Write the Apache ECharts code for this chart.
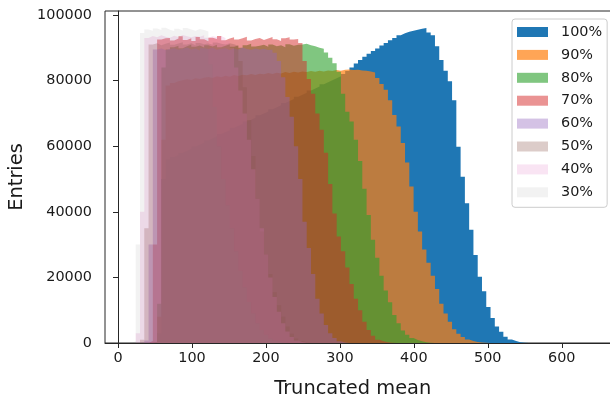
<!DOCTYPE html>
<html>
<head>
<meta charset="utf-8">
<script src="https://cdn.jsdelivr.net/npm/echarts@6/dist/echarts.min.js"></script>
<style>
  html, body { margin: 0; padding: 0; background: #ffffff; }
  #chart { width: 610px; height: 398px; }
</style>
</head>
<body>
<div id="chart"></div>
<script>
// Histogram binning (truncated-mean units)
const binStart = 12.4;
const binWidth = 5.78;

// Series labels (truncation fraction) and matching fill colours
const labels = ['100%', '90%', '80%', '70%', '60%', '50%', '40%', '30%'];
const fills = [
  'rgba(31,119,180,1.0)',
  'rgba(255,127,14,0.7)',
  'rgba(44,160,44,0.6)',
  'rgba(214,39,40,0.5)',
  'rgba(148,103,189,0.4)',
  'rgba(140,86,75,0.3)',
  'rgba(227,119,194,0.2)',
  'rgba(127,127,127,0.1)'
];

// Entries per bin, one array per truncation fraction
const counts100 = [
  0, 0, 0, 0, 0, 0, 200, 3000, 50000, 56000,
  56700, 57300, 58000, 58600, 59200, 59900, 60500, 61100, 61800, 62400,
  63000, 63700, 64300, 64900, 65600, 66200, 66800, 67500, 68100, 68700,
  69400, 70000, 70600, 71300, 71900, 72500, 73200, 73800, 74400, 75100,
  75700, 76300, 77000, 77600, 78200, 78900, 79500, 80100, 80700, 81300,
  82000, 82900, 84000, 85200, 86300, 87300, 88200, 89000, 89800, 90700,
  91500, 92300, 93000, 93800, 94400, 94900, 95200, 95500, 95800, 96000,
  94700, 93800, 90500, 86300, 83000, 79800, 74000, 59800, 50700, 42600,
  34500, 26800, 20200, 15800, 11000, 7600, 5000, 3400, 1900, 1100,
  600, 250, 100, 30, 0, 0
];
const counts90 = [
  0, 0, 0, 0, 0, 0, 200, 8000, 62000, 78500,
  79300, 79800, 80100, 80400, 80200, 80700, 80500, 80900, 81100, 80800,
  81300, 81000, 81500, 81200, 81700, 81400, 81800, 81600, 82000, 81700,
  82100, 81900, 82300, 82000, 82400, 82200, 82600, 82300, 82700, 82500,
  82800, 82600, 82900, 82700, 83000, 82800, 83100, 82900, 83200, 83000,
  83300, 83400, 83200, 83300, 83100, 83000, 82800, 82500, 80800, 79000,
  77200, 74000, 69500, 66000, 61000, 55000, 47700, 40000, 34000, 28500,
  24500, 20500, 16500, 12000, 9000, 6500, 4200, 2800, 1800, 1100,
  600, 300, 150, 50, 0, 0
];
const counts80 = [
  0, 0, 0, 0, 0, 0, 300, 12000, 84000, 89500,
  90200, 90600, 89900, 90500, 91000, 90300, 90700, 90100, 90800, 90400,
  90900, 90200, 90600, 91100, 90300, 90700, 90000, 90800, 91200, 90400,
  90600, 90900, 90300, 91000, 90500, 90800, 90200, 91100, 90600, 90900,
  91000, 91200, 90800, 90500, 90000, 89700, 88600, 87000, 85300, 82700,
  76000, 70500, 67500, 62000, 55500, 47000, 39000, 31500, 26000, 20500,
  16000, 12400, 8500, 6000, 3800, 2500, 1500, 900, 500, 250,
  100, 0
];
const counts70 = [
  0, 0, 0, 0, 0, 600, 30000, 92500, 92900, 93000,
  92200, 92800, 93500, 92400, 92900, 92100, 93300, 92600, 92000, 93100,
  92700, 93600, 92300, 92800, 93200, 92500, 92900, 93400, 92200, 92700,
  93000, 92400, 92800, 93300, 92600, 92100, 92900, 93200, 92500, 92700,
  91500, 86000, 80500, 76000, 70000, 65000, 58000, 48500, 39500, 32500,
  28000, 23000, 18000, 13500, 10000, 6500, 4000, 2200, 1000, 500,
  200, 80, 0
];
const counts60 = [
  0, 0, 0, 0, 800, 30000, 89500, 89800, 89300, 89600,
  89900, 89400, 89700, 90100, 89500, 89800, 89200, 89900, 89600, 90000,
  89400, 89700, 89900, 89300, 89800, 89500, 90100, 89600, 89400, 89800,
  89500, 89700, 89300, 89500, 88500, 86000, 81000, 75000, 69000, 60000,
  50000, 37000, 29000, 21000, 13500, 9000, 5500, 3000, 1500, 500,
  150, 0
];
const counts50 = [
  0, 0, 0, 1000, 35000, 91000, 91400, 90800, 91200, 91600,
  90900, 91300, 91700, 91000, 91400, 90800, 91500, 91100, 91300, 90900,
  91600, 91200, 91000, 91400, 91100, 90600, 86000, 78000, 68000, 57000,
  44000, 34000, 27000, 21000, 15500, 11500, 8000, 5000, 2800, 1400,
  600, 200, 0
];
const counts40 = [
  0, 0, 3000, 40000, 93000, 93600, 93200, 93800, 93400, 93100,
  93700, 93300, 93900, 93500, 93200, 93600, 93400, 93800, 93100, 93500,
  93300, 93600, 93000, 92200, 90000, 84000, 77000, 70000, 62000, 53000,
  44000, 35000, 27000, 20000, 14000, 9500, 6000, 3500, 1800, 800,
  300, 100, 0
];
const counts30 = [
  0, 500, 30000, 94500, 95600, 95200, 95900, 95400, 96100, 95500,
  95100, 95800, 95300, 96000, 95600, 95200, 95700, 95400, 95000, 85000,
  72000, 60000, 50000, 42000, 35000, 28000, 22000, 17000, 12500, 9000,
  6000, 4000, 2500, 1400, 700, 300, 100, 0
];

const allCounts = [counts100, counts90, counts80, counts70, counts60, counts50, counts40, counts30];

// Axis ticks
const xTicks = [0, 100, 200, 300, 400, 500, 600];
const yTicks = [0, 20000, 40000, 60000, 80000, 100000];

// Turn per-bin counts into step-line points at bin edges
function toSteps(counts) {
  const pts = counts.map((c, i) => [binStart + i * binWidth, c]);
  pts.push([binStart + counts.length * binWidth, 0]);
  return pts;
}

const axisColor = '#262626';
const textColor = '#1a1a1a';
const font = 'DejaVu Sans';

const series = labels.map((name, k) => ({
  name: name,
  type: 'line',
  step: 'end',
  data: toSteps(allCounts[k]),
  symbol: 'none',
  showSymbol: false,
  silent: true,
  lineStyle: { width: 0, color: fills[k] },
  itemStyle: { color: fills[k] },
  areaStyle: { color: fills[k], opacity: 1 }
}));

const chart = echarts.init(document.getElementById('chart'), null, { renderer: 'canvas' });
chart.setOption({
  animation: false,
  backgroundColor: '#ffffff',
  grid: {
    left: 105, top: 11, width: 510, height: 332,
    containLabel: false,
    outerBoundsMode: 'none',
    show: true, borderColor: axisColor, borderWidth: 1, backgroundColor: 'transparent'
  },
  legend: {
    orient: 'vertical',
    left: 512, top: 19,
    data: labels,
    icon: 'rect',
    itemWidth: 31, itemHeight: 10,
    itemGap: 6.9,
    padding: [5, 5, 7, 5],
    backgroundColor: 'rgba(255,255,255,0.8)',
    borderColor: '#cccccc', borderWidth: 1, borderRadius: 3,
    textStyle: { fontFamily: font, fontSize: 14.4, color: textColor, lineHeight: 16, padding: [0, 0, 0, 8] }
  },
  xAxis: {
    type: 'value',
    min: -17.6, max: 672,
    name: 'Truncated mean',
    nameLocation: 'middle',
    nameGap: 36,
    nameTextStyle: { fontFamily: font, fontSize: 19.4, color: textColor, padding: [0, 14.6, 0, 0] },
    axisLine: { show: true, onZero: false, lineStyle: { color: axisColor, width: 1 } },
    axisTick: { show: true, length: 5, lineStyle: { color: axisColor }, customValues: xTicks },
    axisLabel: { fontFamily: font, fontSize: 14.4, color: textColor, margin: 8, customValues: xTicks, formatter: v => String(v) },
    splitLine: { show: false }
  },
  yAxis: {
    type: 'value',
    min: 0, max: 101220,
    name: 'Entries',
    nameLocation: 'middle',
    nameGap: 67,
    nameTextStyle: { fontFamily: font, fontSize: 19.4, color: textColor },
    axisLine: { show: true, lineStyle: { color: axisColor, width: 1 } },
    axisTick: { show: true, length: 5, lineStyle: { color: axisColor }, customValues: yTicks },
    axisLabel: { fontFamily: font, fontSize: 14.4, color: textColor, margin: 13, customValues: yTicks, formatter: v => String(v) },
    splitLine: { show: false }
  },
  series: series
});
</script>
</body>
</html>
